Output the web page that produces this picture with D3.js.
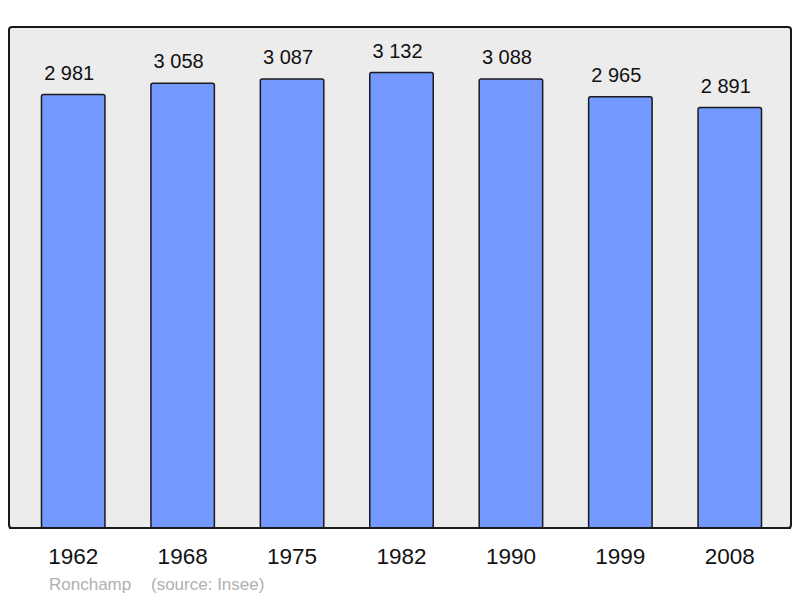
<!DOCTYPE html>
<html>
<head>
<meta charset="utf-8">
<script src="https://cdn.jsdelivr.net/npm/d3@7"></script>
<style>
  body { margin: 0; background: #fff; }
  text { font-family: "Liberation Sans", Arial, sans-serif; }
</style>
</head>
<body>
<div id="chart"></div>
<script>
// population by census year
var years = ['1962', '1968', '1975', '1982', '1990', '1999', '2008'];
var population = [2981, 3058, 3087, 3132, 3088, 2965, 2891];
var commune = 'Ronchamp';
var source = '(source: Insee)';

var width = 800, height = 598;
var panel = {left: 9, top: 27, right: 791, bottom: 528};

var svg = d3.select('#chart')
  .append('svg')
  .attr('width', width)
  .attr('height', height);

// grey panel
svg.append('rect')
  .attr('x', panel.left)
  .attr('y', panel.top)
  .attr('width', panel.right - panel.left)
  .attr('height', panel.bottom - panel.top)
  .attr('rx', 3)
  .attr('fill', '#ececec')
  .attr('stroke', '#1a1a1a')
  .attr('stroke-width', 2);

var x = d3.scaleBand()
  .domain(years)
  .range([18.5, 784.5])
  .paddingInner(0.42)
  .paddingOuter(0.21);

var y = d3.scaleLinear()
  .domain([0, d3.max(population) * 1.1])
  .range([panel.bottom, panel.top]);

var rows = years.map(function(yr, i) {
  return {year: yr, val: population[i]};
});

svg.selectAll('rect.bar')
  .data(rows)
  .enter()
  .append('rect')
  .attr('class', 'bar')
  .attr('x', function(d) { return x(d.year); })
  .attr('y', function(d) { return y(d.val); })
  .attr('width', x.bandwidth())
  .attr('height', function(d) { return panel.bottom - y(d.val); })
  .attr('rx', 2)
  .attr('fill', '#7398ff')
  .attr('stroke', '#1a1a1a')
  .attr('stroke-width', 1.5);

// redraw panel bottom line over bars
svg.append('line')
  .attr('x1', panel.left)
  .attr('x2', panel.right)
  .attr('y1', panel.bottom)
  .attr('y2', panel.bottom)
  .attr('stroke', '#1a1a1a')
  .attr('stroke-width', 2);

// value labels sit a little left of the bar centre
svg.selectAll('text.val')
  .data(rows)
  .enter()
  .append('text')
  .attr('class', 'val')
  .attr('x', function(d) { return x(d.year) + x.bandwidth() / 2 - 4; })
  .attr('y', function(d) { return y(d.val) - 15; })
  .attr('text-anchor', 'middle')
  .attr('font-size', 20)
  .attr('fill', '#111')
  .text(function(d) { return d3.format(',')(d.val).replace(',', ' '); });

var xAxis = d3.axisBottom(x).tickSize(0).tickPadding(0);
var axisG = svg.append('g')
  .attr('transform', 'translate(0,' + 564 + ')')
  .call(xAxis);
axisG.select('.domain').remove();
axisG.selectAll('text')
  .attr('dy', 0)
  .attr('font-size', 22.5)
  .attr('font-family', '"Liberation Sans", Arial, sans-serif')
  .attr('fill', '#111');

svg.append('text')
  .attr('x', 49)
  .attr('y', 590)
  .attr('font-size', 17)
  .attr('fill', '#b0b0b0')
  .text(commune);

svg.append('text')
  .attr('x', 151)
  .attr('y', 590)
  .attr('font-size', 17)
  .attr('fill', '#b0b0b0')
  .text(source);
</script>
</body>
</html>
